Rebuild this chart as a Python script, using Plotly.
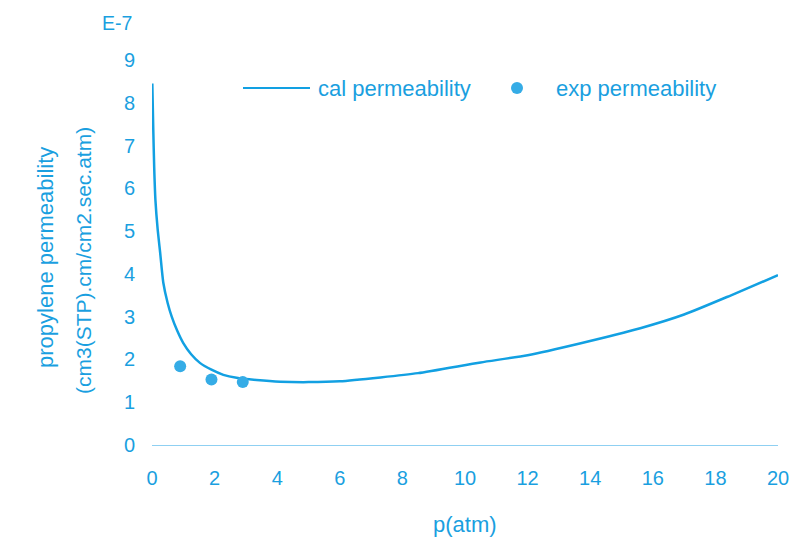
import plotly.graph_objects as go

# Calculated permeability curve (p in atm, permeability in units of 1E-7)
cal_p = [0.01, 0.04, 0.07, 0.11, 0.18, 0.26, 0.36, 0.5, 0.63, 0.8, 1.0, 1.25,
         1.53, 1.9, 2.28, 2.7, 3.34, 4.1, 5.0, 6.0, 7.3, 8.5, 10.5, 12.0,
         13.7, 15.6, 17.0, 18.5, 20.0]
cal_perm = [8.45, 7.4, 6.5, 5.72, 5.05, 4.5, 3.8, 3.32, 3.0, 2.68, 2.38, 2.12,
            1.92, 1.76, 1.64, 1.57, 1.52, 1.48, 1.47, 1.49, 1.58, 1.68, 1.93, 2.1,
            2.38, 2.73, 3.05, 3.5, 3.97]

# Experimental permeability points
exp_p = [0.9, 1.9, 2.9]
exp_perm = [1.84, 1.53, 1.47]

x_ticks = [0, 2, 4, 6, 8, 10, 12, 14, 16, 18, 20]
y_ticks = [0, 1, 2, 3, 4, 5, 6, 7, 8, 9]

BLUE = "#1a9fe0"
LINE = "#12a0e2"
DOT = "#35ace6"
FONT = "Liberation Sans, Arial, sans-serif"

W, H = 795, 558
L, R, T, B = 152, 17, 60, 113
PW, PH = W - L - R, H - T - B


def px(x):
    return (x - L) / PW


def py(y):
    return (H - B - y) / PH


fig = go.Figure()
fig.add_trace(go.Scatter(x=cal_p, y=cal_perm, mode="lines",
                         line=dict(color=LINE, width=2.5, shape="spline", smoothing=0.6),
                         showlegend=False, hoverinfo="skip"))
fig.add_trace(go.Scatter(x=exp_p, y=exp_perm, mode="markers",
                         marker=dict(color=DOT, size=12, line=dict(width=0)),
                         showlegend=False, cliponaxis=False))

annotations = [
    dict(text="E-7", x=px(117), y=py(23), font=dict(size=19.5)),
    dict(text="propylene permeability", x=px(45), y=py(258), textangle=-90,
         font=dict(size=22)),
    dict(text="(cm3(STP).cm/cm2.sec.atm)", x=px(83), y=py(261), textangle=-90,
         font=dict(size=21)),
    dict(text="p(atm)", x=px(465), y=py(524), font=dict(size=22)),
    dict(text="cal permeability", x=px(316), y=py(88), xanchor="left",
         font=dict(size=22)),
    dict(text="exp permeability", x=px(554), y=py(88), xanchor="left",
         font=dict(size=22)),
]
for a in annotations:
    a.update(xref="paper", yref="paper", showarrow=False)
    a.setdefault("xanchor", "center")
    a["yanchor"] = "middle"
    a["font"].update(color=BLUE, family=FONT)

shapes = [
    dict(type="line", xref="paper", yref="paper", x0=px(243), x1=px(310),
         y0=py(88), y1=py(88), line=dict(color=LINE, width=2)),
    dict(type="circle", xref="paper", yref="paper", x0=px(511), x1=px(523),
         y0=py(82), y1=py(94), fillcolor=DOT, line=dict(width=0)),
]

fig.update_layout(
    width=W, height=H,
    margin=dict(l=L, r=R, t=T, b=B),
    paper_bgcolor="white", plot_bgcolor="white",
    font=dict(family=FONT, color=BLUE, size=19),
    annotations=annotations, shapes=shapes,
    showlegend=False,
    xaxis=dict(range=[0, 20], tickvals=x_ticks, ticktext=[str(v) for v in x_ticks],
               showgrid=False, zeroline=False, showline=True, automargin=False,
               linecolor="#8fd0f2", linewidth=1, ticks="", ticklabelstandoff=15,
               tickfont=dict(size=20, color=BLUE)),
    yaxis=dict(range=[0, 9], tickvals=y_ticks, ticktext=[str(v) for v in y_ticks],
               showgrid=False, zeroline=False, showline=False, automargin=False,
               ticks="", ticklabelstandoff=16,
               tickfont=dict(size=20, color=BLUE)),
)

fig.write_html("out.html")
